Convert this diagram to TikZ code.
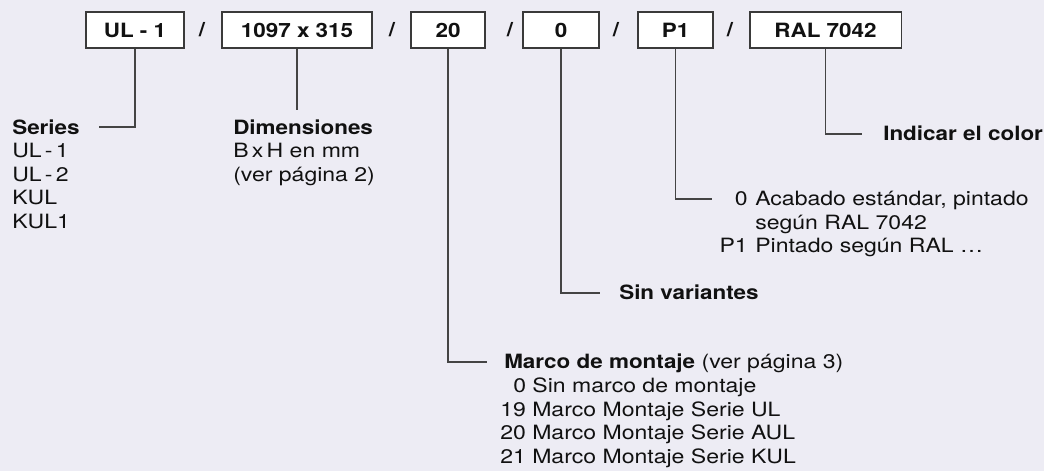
\documentclass[tikz,border=0pt]{standalone}
\usepackage{fontspec}
\setmainfont{TeX Gyre Heros}[FakeStretch=1.17, BoldFeatures={FakeStretch=1.14}]
\newcommand{\legendFont}{\fontsize{14}{16.8}\selectfont}

\begin{document}
\begin{tikzpicture}[x=0.025cm, y=-0.025cm,
    every node/.style={font=\legendFont, text=textColour},
    codebox/.style={draw=borderColour, fill=white, line width=0.75pt, minimum height=0.9cm, inner sep=0pt, font=\legendFont\bfseries},
    slash/.style={inner sep=0pt, font=\legendFont\bfseries},
    leader/.style={draw=lineColour, line width=0.75pt},
    legend/.style={anchor=base west, inner sep=0pt},
    legendnum/.style={anchor=base east, inner sep=0pt}]
    \definecolor{bgColour}{HTML}{EDECF4}
    \definecolor{borderColour}{HTML}{3A3A3A}
    \definecolor{lineColour}{HTML}{444444}
    \definecolor{textColour}{HTML}{111111}

    \def\linePitch{23.5} % distance between two text lines

    % Background and page size
    \fill[bgColour] (0,0) rectangle (1044,471);
    \useasboundingbox (0,0) rectangle (1044,471);

    % Code boxes
    \node[codebox, minimum width=2.45cm]  (ul)    at (135,30)   {UL - 1};
    \node[codebox, minimum width=3.75cm]  (dim)   at (297,30)   {1097 x 315};
    \node[codebox, minimum width=1.85cm]  (marco) at (448,30)   {20};
    \node[codebox, minimum width=1.9cm]   (var)   at (561,30)   {0};
    \node[codebox, minimum width=1.875cm] (paint) at (675.5,30) {P1};
    \node[codebox, minimum width=3.775cm] (color) at (825.5,30) {RAL 7042};

    % Slashes between the boxes
    \node[slash] (s1) at (202,30) {/};
    \node[slash] (s2) at (392,30) {/};
    \node[slash] (s3) at (510,30) {/};
    \node[slash] (s4) at (616,30) {/};
    \node[slash] (s5) at (730,30) {/};

    % Ends of the leader lines
    \coordinate (seriesTip) at (99,127);
    \coordinate (dimTip)    at (297,110);
    \coordinate (marcoTip)  at (487,362);
    \coordinate (varTip)    at (600,293);
    \coordinate (paintTip)  at (712,199);
    \coordinate (colorTip)  at (862,134);

    % Leader lines
    \draw[leader] (ul.south) |- (seriesTip);
    \draw[leader] (dim.south) -- (dimTip);
    \draw[leader] (marco.south) |- (marcoTip);
    \draw[leader] (var.south) |- (varTip);
    \draw[leader] (paint.south) |- (paintTip);
    \draw[leader] (color.south) |- (colorTip);

    % Series
    \foreach \txt [count=\i from 0] in {\textbf{Series}, UL\,-\,1, UL\,-\,2, KUL, KUL1}
        \node[legend] (series-\i) at (12,134.5+\i*\linePitch) {\txt};

    % Dimensions
    \foreach \txt [count=\i from 0] in {\textbf{Dimensiones}, B\,x\,H en mm, (ver página 2)}
        \node[legend] (dimText-\i) at (233,134.5+\i*\linePitch) {\txt};

    % Mounting frame
    \node[legend] (marcoText) at (504,369) {\textbf{Marco de montaje} (ver página 3)};
    \node[legend] (marco-0) at (513,369+\linePitch) {0 Sin marco de montaje};
    \foreach \num/\serie [count=\i from 2] in {19/UL, 20/AUL, 21/KUL}
        \node[legend] (marco-\num) at (500,369+\i*\linePitch) {\num\ Marco Montaje Serie \serie};

    % Variants
    \node[legend] (varText) at (619,300) {\textbf{Sin variantes}};

    % Paint
    \node[legendnum] (paintNum-0) at (748,206) {0};
    \node[legend] (paintText-0) at (755,206) {Acabado estándar, pintado};
    \node[legend] (paintText-1) at (755,206+\linePitch) {según RAL 7042};
    \node[legendnum] (paintNum-1) at (748,206+2*\linePitch) {P1};
    \node[legend] (paintText-2) at (755,206+2*\linePitch) {Pintado según RAL \dots};

    % Colour
    \node[legend] (colorText) at (883,141) {\textbf{Indicar el color}};

\end{tikzpicture}
\end{document}
